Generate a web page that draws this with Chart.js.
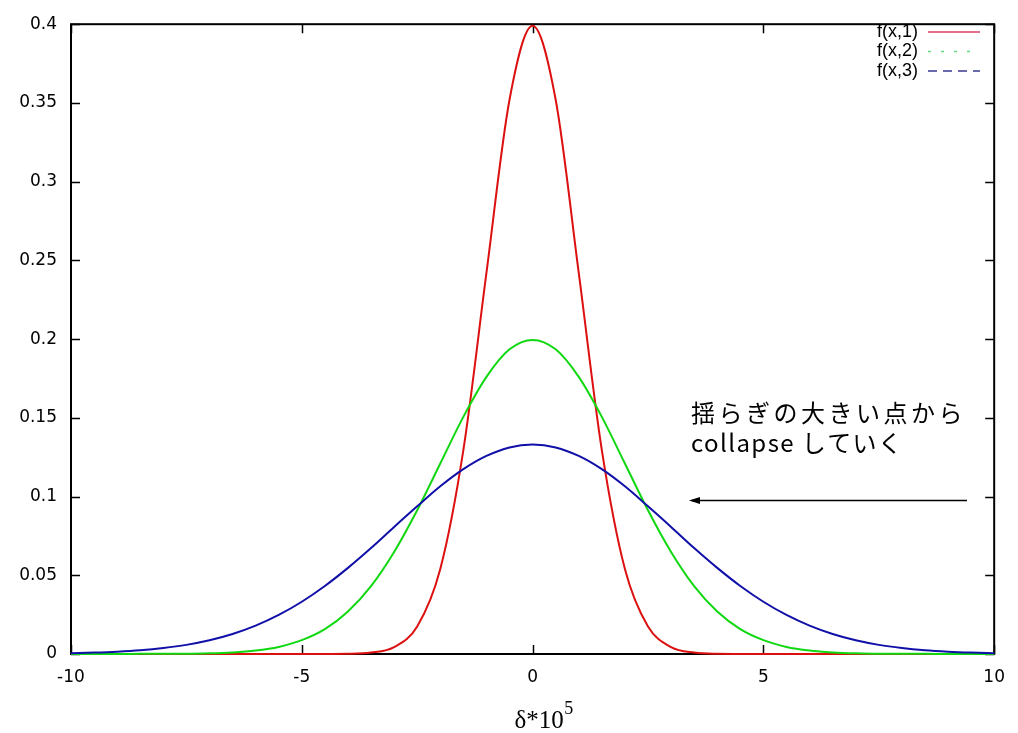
<!DOCTYPE html>
<html>
<head>
<meta charset="utf-8">
<script src="https://cdn.jsdelivr.net/npm/chart.js@4.4.0/dist/chart.umd.min.js"></script>
<style>
html,body{margin:0;padding:0;background:#fff;}
#wrap{position:relative;width:1018px;height:733px;}
</style>
</head>
<body>
<div id="wrap"><canvas id="c"></canvas></div>
<script>
// x positions (delta * 10^5)
const xValues = [-10,-9.5,-9,-8.5,-8,-7.5,-7,-6.5,-6,-5.5,-5,-4.5,-4,-3.5,-3,-2.5,-2,-1.5,-1,-0.5,0,
                 0.5,1,1.5,2,2.5,3,3.5,4,4.5,5,5.5,6,6.5,7,7.5,8,8.5,9,9.5,10];
// f(x,1)
const f1 = [0,0,0,0,0,0,0,0,0,0,0,0,0.0001,0.0009,0.0044,0.0175,0.054,0.1295,0.242,0.352,0.399,
            0.352,0.242,0.1295,0.054,0.0175,0.0044,0.0009,0.0001,0,0,0,0,0,0,0,0,0,0,0,0];
// f(x,2)
const f2 = [0,0,0,0.0001,0.0001,0.0002,0.0004,0.001,0.0022,0.0045,0.0088,0.0158,0.027,0.0431,0.0648,0.0913,0.121,0.1506,0.176,0.1935,0.1995,
            0.1935,0.176,0.1506,0.121,0.0913,0.0648,0.0431,0.027,0.0158,0.0088,0.0045,0.0022,0.001,0.0004,0.0002,0.0001,0.0001,0,0,0];
// f(x,3)
const f3 = [0.0005,0.0009,0.0015,0.0024,0.0038,0.0058,0.0087,0.0127,0.018,0.0248,0.0332,0.0432,0.0547,0.0673,0.0807,0.0938,0.1065,0.1174,0.1258,0.1312,0.133,
            0.1312,0.1258,0.1174,0.1065,0.0938,0.0807,0.0673,0.0547,0.0432,0.0332,0.0248,0.018,0.0127,0.0087,0.0058,0.0038,0.0024,0.0015,0.0009,0.0005];

const seriesNames = ['f(x,1)','f(x,2)','f(x,3)'];
const xTicks = [-10,-5,0,5,10];
const yTicks = [0,0.05,0.1,0.15,0.2,0.25,0.3,0.35,0.4];
const annotationLines = ['揺らぎの大きい点から','collapse していく'];
const xTitle = 'δ*10';
const xTitleSup = '5';

const colors = ['#dc1010','#10d810','#1010a8'];

function pts(ys){ return xValues.map((x,i)=>({x:x,y:ys[i]})); }

const decor = {
  id:'decor',
  beforeDatasetsDraw(chart){
    const ctx = chart.ctx, a = chart.chartArea;
    ctx.save();
    ctx.strokeStyle = '#000';
    ctx.lineWidth = 2;
    ctx.strokeRect(a.left, a.top, a.right-a.left, a.bottom-a.top);
    ctx.lineWidth = 1.5;
    const xs = chart.scales.x, ys = chart.scales.y;
    const L = 9;
    xTicks.forEach(v=>{
      const px = Math.round(xs.getPixelForValue(v))+0.5;
      ctx.beginPath();
      ctx.moveTo(px,a.bottom); ctx.lineTo(px,a.bottom-L);
      ctx.moveTo(px,a.top); ctx.lineTo(px,a.top+L);
      ctx.stroke();
    });
    yTicks.forEach(v=>{
      const py = Math.round(ys.getPixelForValue(v))+0.5;
      ctx.beginPath();
      ctx.moveTo(a.left,py); ctx.lineTo(a.left+L,py);
      ctx.moveTo(a.right,py); ctx.lineTo(a.right-L,py);
      ctx.stroke();
    });
    ctx.restore();
  },
  afterDraw(chart){
    const ctx = chart.ctx, a = chart.chartArea;
    ctx.save();
    // legend
    ctx.font = '18px "Liberation Sans", Arial, sans-serif';
    ctx.textAlign = 'right';
    ctx.textBaseline = 'middle';
    ctx.fillStyle = '#000';
    const rowY = [32, 51.5, 71];
    const dashes = [[],[3,10],[9,6]];
    const lcol = ['#d84060','#60dc80','#383890'];
    seriesNames.forEach((n,i)=>{
      ctx.fillText(n, 918, rowY[i]);
      ctx.beginPath();
      ctx.setLineDash(dashes[i]);
      ctx.strokeStyle = lcol[i];
      ctx.lineWidth = 1.6;
      ctx.moveTo(928, rowY[i]); ctx.lineTo(980, rowY[i]);
      ctx.stroke();
    });
    ctx.setLineDash([]);
    // annotation
    ctx.textAlign = 'left';
    ctx.textBaseline = 'middle';
    ctx.font = '24px "Noto Sans CJK JP", sans-serif';
    ctx.fillStyle = '#000';
    try{ ctx.letterSpacing = '3.5px'; }catch(e){}
    ctx.fillText(annotationLines[0], 691, 413);
    try{ ctx.letterSpacing = '1.4px'; }catch(e){}
    ctx.fillText(annotationLines[1], 691, 443);
    try{ ctx.letterSpacing = '0px'; }catch(e){}
    // arrow
    const ay = 500.5;
    ctx.strokeStyle = '#000';
    ctx.lineWidth = 1.3;
    ctx.beginPath();
    ctx.moveTo(967, ay); ctx.lineTo(692, ay);
    ctx.stroke();
    ctx.beginPath();
    ctx.moveTo(689, ay); ctx.lineTo(700, ay-3.5); ctx.lineTo(700, ay+3.5); ctx.closePath();
    ctx.fillStyle = '#000';
    ctx.fill();
    // x title
    ctx.font = '25px "Liberation Serif", "Times New Roman", serif';
    ctx.textAlign = 'left';
    ctx.textBaseline = 'alphabetic';
    const w1 = ctx.measureText(xTitle).width;
    ctx.font = '18px "Liberation Serif", "Times New Roman", serif';
    const w2 = ctx.measureText(xTitleSup).width;
    const cx = (a.left+a.right)/2 + 11;
    const sx = cx - (w1+w2)/2;
    ctx.font = '25px "Liberation Serif", "Times New Roman", serif';
    ctx.fillText(xTitle, sx, 728);
    ctx.font = '18px "Liberation Serif", "Times New Roman", serif';
    ctx.fillText(xTitleSup, sx + w1 + 0.5, 714);
    ctx.restore();
  }
};

new Chart(document.getElementById('c'), {
  type:'line',
  data:{
    datasets:[
      {label:seriesNames[0], data:pts(f1), borderColor:colors[0], borderWidth:2, pointRadius:0, fill:false, cubicInterpolationMode:'monotone', order:3, clip:false},
      {label:seriesNames[1], data:pts(f2), borderColor:colors[1], borderWidth:2, pointRadius:0, fill:false, cubicInterpolationMode:'monotone', order:2, clip:false},
      {label:seriesNames[2], data:pts(f3), borderColor:colors[2], borderWidth:2, pointRadius:0, fill:false, cubicInterpolationMode:'monotone', order:1, clip:false}
    ]
  },
  options:{
    responsive:true,
    maintainAspectRatio:false,
    animation:false,
    layout:{padding:{top:14,right:20,left:0,bottom:0}},
    plugins:{legend:{display:false}, tooltip:{enabled:false}},
    scales:{
      x:{
        type:'linear', min:-10, max:10,
        afterFit(s){ s.height = 79; },
        afterBuildTicks(s){ s.ticks = xTicks.map(v=>({value:v})); },
        grid:{display:false, drawTicks:false},
        border:{display:false},
        ticks:{color:'#000', padding:13, font:{family:'"DejaVu Sans", sans-serif', size:17}, maxRotation:0,
               callback:(v)=>String(v)}
      },
      y:{
        type:'linear', min:0, max:0.4,
        afterFit(s){ s.width = 71; },
        afterBuildTicks(s){ s.ticks = yTicks.map(v=>({value:v})); },
        grid:{display:false, drawTicks:false},
        border:{display:false},
        ticks:{color:'#000', padding:14, font:{family:'"DejaVu Sans", sans-serif', size:17},
               callback:(v)=>String(Number(v.toFixed(2)))}
      }
    }
  },
  plugins:[decor]
});
</script>
</body>
</html>
